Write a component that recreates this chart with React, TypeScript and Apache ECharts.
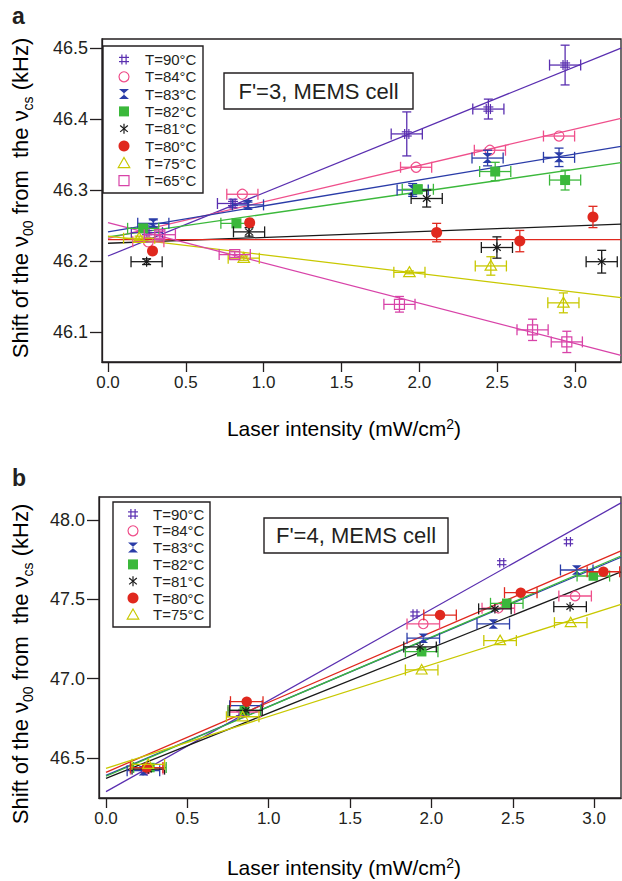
import React, { useEffect, useRef } from "react";
import * as echarts from "echarts";

const FONT = "'Liberation Sans', Arial, Helvetica, sans-serif";
const INK = "#231f20";

const seriesNames = ["T=90°C", "T=84°C", "T=83°C", "T=82°C", "T=81°C", "T=80°C", "T=75°C", "T=65°C"];
const seriesColors = ["#5a2fb0", "#ef4f8b", "#2a3ca8", "#3bb83b", "#1a1a1a", "#e0281e", "#c8c800", "#d843a8"];
const markerKinds = ["hash", "circleOpen", "hourglass", "squareFilled", "asterisk", "circleFilled", "triangleOpen", "squareOpen"];

// Panel a (F'=3): [intensity, shift, intensity error, shift error]
const a90 = [[0.25, 46.240, 0.1, 0.008], [0.803, 46.281, 0.1, 0.006], [1.919, 46.379, 0.1, 0.031], [2.443, 46.414, 0.1, 0.014], [2.936, 46.476, 0.1, 0.028]];
const a84 = [[0.259, 46.227, 0.1, 0], [0.863, 46.294, 0.1, 0], [1.979, 46.332, 0.1, 0], [2.453, 46.356, 0.1, 0], [2.897, 46.376, 0.1, 0]];
const a83 = [[0.291, 46.253, 0.1, 0.005], [0.899, 46.279, 0.1, 0.004], [1.957, 46.300, 0.1, 0.009], [2.438, 46.345, 0.1, 0.011], [2.897, 46.346, 0.1, 0.013]];
const a82 = [[0.226, 46.246, 0.1, 0.004], [0.825, 46.253, 0.1, 0.004], [1.99, 46.301, 0.1, 0.006], [2.487, 46.326, 0.1, 0.013], [2.936, 46.314, 0.1, 0.014]];
const a81 = [[0.248, 46.199, 0.1, 0.004], [0.906, 46.241, 0.1, 0.006], [2.047, 46.288, 0.1, 0.012], [2.498, 46.219, 0.1, 0.015], [3.171, 46.199, 0.1, 0.016]];
const a80 = [[0.286, 46.214, 0, 0], [0.91, 46.254, 0, 0.004], [2.111, 46.240, 0, 0.013], [2.645, 46.228, 0, 0.015], [3.115, 46.262, 0, 0.015]];
const a75 = [[0.2, 46.232, 0.1, 0.003], [0.872, 46.204, 0.1, 0.003], [1.936, 46.184, 0.1, 0.002], [2.459, 46.193, 0.1, 0.013], [2.925, 46.141, 0.1, 0.014]];
const a65 = [[0.333, 46.237, 0.1, 0.005], [0.814, 46.209, 0.1, 0.004], [1.872, 46.139, 0.1, 0.011], [2.727, 46.103, 0.1, 0.015], [2.947, 46.086, 0.1, 0.015]];
const panelAData = [a90, a84, a83, a82, a81, a80, a75, a65];
const panelAFitIntercept = [46.207, 46.232, 46.241, 46.234, 46.225, 46.230, 46.235, 46.254];
const panelAFitSlope = [0.0889, 0.0513, 0.0366, 0.0317, 0.0082, 0.0, -0.0263, -0.0567];

// Panel b (F'=4)
const b90 = [[0.24, 46.42, 0, 0], [0.83, 46.78, 0, 0], [1.899, 47.408, 0, 0], [2.432, 47.731, 0, 0], [2.842, 47.863, 0, 0]];
const b84 = [[0.25, 46.43, 0.1, 0], [0.85, 46.79, 0.1, 0], [1.95, 47.345, 0.1, 0], [2.411, 47.444, 0.1, 0], [2.883, 47.521, 0.1, 0]];
const b83 = [[0.23, 46.42, 0.1, 0], [0.86, 46.83, 0.1, 0], [1.95, 47.255, 0.1, 0], [2.38, 47.345, 0.1, 0], [2.893, 47.685, 0.1, 0]];
const b82 = [[0.27, 46.44, 0.1, 0], [0.85, 46.80, 0.1, 0], [1.94, 47.17, 0.1, 0], [2.463, 47.475, 0.1, 0], [2.995, 47.647, 0.1, 0]];
const b81 = [[0.26, 46.43, 0.1, 0], [0.86, 46.80, 0.1, 0], [1.93, 47.2, 0.1, 0], [2.39, 47.44, 0.1, 0], [2.852, 47.454, 0.1, 0]];
const b80 = [[0.25, 46.44, 0.1, 0], [0.865, 46.855, 0.1, 0], [2.053, 47.401, 0.1, 0], [2.549, 47.542, 0.1, 0], [3.057, 47.674, 0.1, 0]];
const b75 = [[0.26, 46.46, 0.1, 0], [0.84, 46.76, 0.1, 0], [1.94, 47.055, 0.1, 0], [2.422, 47.24, 0.1, 0], [2.856, 47.353, 0.1, 0]];
const panelBData = [b90, b84, b83, b82, b81, b80, b75];
const panelBFitIntercept = [46.288, null, 46.39, 46.385, 46.372, 46.41, 46.435];
const panelBFitSlope = [0.575, null, 0.4345, 0.4386, 0.411, 0.441, 0.3266];

const xTicks = [0, 0.5, 1, 1.5, 2, 2.5, 3];
const yTicksA = [46.1, 46.2, 46.3, 46.4, 46.5];
const yTicksB = [46.5, 47.0, 47.5, 48.0];

const X_A = [-0.0385, 3.295];
const Y_A = [46.0577, 46.5127];
const X_B = [-0.043, 3.165];
const Y_B = [46.248, 48.145];

function ln(x1: number, y1: number, x2: number, y2: number, color: string, lw = 1.2) {
  return { type: "line", shape: { x1, y1, x2, y2 }, style: { stroke: color, lineWidth: lw } };
}

function markerShapes(kind: string, cx: number, cy: number, color: string, s: number): any[] {
  const h = s / 2;
  const lw = 1.2;
  switch (kind) {
    case "hash": {
      const o = h * 0.42;
      return [
        ln(cx - o, cy - h, cx - o, cy + h, color, lw),
        ln(cx + o, cy - h, cx + o, cy + h, color, lw),
        ln(cx - h, cy - o, cx + h, cy - o, color, lw),
        ln(cx - h, cy + o, cx + h, cy + o, color, lw),
      ];
    }
    case "circleOpen":
      return [{ type: "circle", shape: { cx, cy, r: h }, style: { stroke: color, lineWidth: lw, fill: "rgba(255,255,255,0)" } }];
    case "hourglass":
      return [{ type: "polygon", shape: { points: [[cx - h, cy - h], [cx + h, cy - h], [cx - h * 0.15, cy], [cx + h, cy + h], [cx - h, cy + h], [cx + h * 0.15, cy]] }, style: { fill: color } }];
    case "squareFilled":
      return [{ type: "rect", shape: { x: cx - h, y: cy - h, width: s, height: s }, style: { fill: color } }];
    case "asterisk": {
      const a = (40 * Math.PI) / 180;
      const dx = h * Math.cos(a), dy = h * Math.sin(a);
      return [
        ln(cx, cy - h, cx, cy + h, color, lw),
        ln(cx - dx, cy - dy, cx + dx, cy + dy, color, lw),
        ln(cx - dx, cy + dy, cx + dx, cy - dy, color, lw),
      ];
    }
    case "circleFilled":
      return [{ type: "circle", shape: { cx, cy, r: h * 1.1 }, style: { fill: color } }];
    case "triangleOpen":
      return [{ type: "polygon", shape: { points: [[cx, cy - h * 1.15], [cx + h * 1.15, cy + h * 0.85], [cx - h * 1.15, cy + h * 0.85]] }, style: { stroke: color, lineWidth: lw, fill: "rgba(255,255,255,0)" } }];
    case "squareOpen":
      return [{ type: "rect", shape: { x: cx - h, y: cy - h, width: s, height: s }, style: { stroke: color, lineWidth: lw, fill: "rgba(255,255,255,0)" } }];
  }
  return [];
}

function makeRenderItem(kind: string, color: string, size: number) {
  return (_params: any, api: any) => {
    const x = api.value(0), y = api.value(1), xe = api.value(2), ye = api.value(3);
    const c = api.coord([x, y]);
    const kids: any[] = [];
    if (xe > 0) {
      const l = api.coord([x - xe, y]);
      const r = api.coord([x + xe, y]);
      kids.push(ln(l[0], c[1], r[0], c[1], color, 1.3));
      kids.push(ln(l[0], c[1] - 5.5, l[0], c[1] + 5.5, color, 1.3));
      kids.push(ln(r[0], c[1] - 5.5, r[0], c[1] + 5.5, color, 1.3));
    }
    if (ye > 0) {
      const t = api.coord([x, y + ye]);
      const b = api.coord([x, y - ye]);
      kids.push(ln(c[0], t[1], c[0], b[1], color, 1.3));
      kids.push(ln(c[0] - 4.5, t[1], c[0] + 4.5, t[1], color, 1.3));
      kids.push(ln(c[0] - 4.5, b[1], c[0] + 4.5, b[1], color, 1.3));
    }
    kids.push(...markerShapes(kind, c[0], c[1], color, size));
    return { type: "group", children: kids };
  };
}

function axisPair(gi: number, xr: number[], yr: number[], yTicks: number[]) {
  const x = {
    type: "value", gridIndex: gi, min: xr[0], max: xr[1],
    axisLine: { show: true, onZero: false, lineStyle: { color: INK, width: 1.3 } },
    axisTick: { show: true, inside: false, length: 10, customValues: xTicks, lineStyle: { color: INK, width: 1.3 } },
    axisLabel: { customValues: xTicks, formatter: (v: number) => v.toFixed(1), fontSize: 17, color: INK, margin: 12, fontFamily: FONT },
    splitLine: { show: false },
  };
  const y = {
    type: "value", gridIndex: gi, min: yr[0], max: yr[1],
    axisLine: { show: true, onZero: false, lineStyle: { color: INK, width: 1.3 } },
    axisTick: { show: true, inside: false, length: 12, customValues: yTicks, lineStyle: { color: INK, width: 1.3 } },
    axisLabel: { customValues: yTicks, formatter: (v: number) => v.toFixed(1), fontSize: 18, color: INK, margin: 14, fontFamily: FONT },
    splitLine: { show: false },
  };
  return { x, y };
}

function buildSeries(gi: number, data: number[][][], icpt: (number | null)[], slope: (number | null)[], xMax: number, size: number) {
  const out: any[] = [];
  data.forEach((pts, i) => {
    const color = seriesColors[i];
    const a = icpt[i], b = slope[i];
    if (a !== null && b !== null) {
      out.push({
        type: "line", name: seriesNames[i] + " fit", xAxisIndex: gi, yAxisIndex: gi,
        data: [[0, a], [xMax, a + b * xMax]],
        showSymbol: false, symbol: "none", lineStyle: { color, width: 1.3 }, z: 2, silent: true,
      });
    }
    out.push({
      type: "custom", name: seriesNames[i], xAxisIndex: gi, yAxisIndex: gi,
      data: pts, encode: { x: 0, y: 1 }, renderItem: makeRenderItem(markerKinds[i], color, size), z: 3, silent: true,
    });
  });
  return out;
}

function legendGraphic(box: number[], rowY0: number, rowGap: number, symX: number, textX: number, count: number) {
  const els: any[] = [
    { type: "rect", shape: { x: box[0], y: box[1], width: box[2], height: box[3] }, style: { fill: "#fff", stroke: INK, lineWidth: 1.4 }, z: 10 },
  ];
  for (let i = 0; i < count; i++) {
    const cy = rowY0 + i * rowGap;
    markerShapes(markerKinds[i], symX, cy, seriesColors[i], 10).forEach((m) => els.push({ ...m, z: 11 }));
    els.push({ type: "text", x: textX, y: cy, style: { text: seriesNames[i], fontSize: 15, fontFamily: FONT, fill: INK, align: "left", verticalAlign: "middle" }, z: 11 });
  }
  return els;
}

const yTitleRich = {
  m: { fontSize: 22, lineHeight: 30, fontFamily: FONT, color: INK },
  s: { fontSize: 14, lineHeight: 14, fontFamily: FONT, verticalAlign: "bottom", color: INK },
};
const yTitleText = "{m|Shift of the ν}{s|00}{m| from  the ν}{s|cs}{m| (kHz)}";
const xTitleRich = {
  m: { fontSize: 21, lineHeight: 22, fontFamily: FONT, color: INK },
  p: { fontSize: 14, lineHeight: 10, fontFamily: FONT, verticalAlign: "top", color: INK },
};
const xTitleText = "{m|Laser intensity (mW/cm}{p|2}{m|)}";

export default function App() {
  const ref = useRef<HTMLDivElement>(null);
  useEffect(() => {
    if (!ref.current) return;
    const chart = echarts.init(ref.current, undefined, { renderer: "svg" });
    const A = axisPair(0, X_A, Y_A, yTicksA);
    const B = axisPair(1, X_B, Y_B, yTicksB);
    const graphic: any[] = [
      { type: "text", x: 12, y: 16, style: { text: "a", fontSize: 23, fontWeight: "bold", fontFamily: FONT, fill: INK, verticalAlign: "middle" } },
      { type: "text", x: 12, y: 478, style: { text: "b", fontSize: 23, fontWeight: "bold", fontFamily: FONT, fill: INK, verticalAlign: "middle" } },
      { type: "rect", shape: { x: 224, y: 73, width: 189, height: 36 }, style: { fill: "#fff", stroke: INK, lineWidth: 1.4 }, z: 10 },
      { type: "text", x: 318.5, y: 91, style: { text: "F'=3, MEMS cell", fontSize: 22, fontFamily: FONT, fill: INK, align: "center", verticalAlign: "middle" }, z: 11 },
      { type: "rect", shape: { x: 264, y: 518, width: 184, height: 35 }, style: { fill: "#fff", stroke: INK, lineWidth: 1.4 }, z: 10 },
      { type: "text", x: 356, y: 535.5, style: { text: "F'=4, MEMS cell", fontSize: 22, fontFamily: FONT, fill: INK, align: "center", verticalAlign: "middle" }, z: 11 },
      ...legendGraphic([103, 46, 100, 147], 59.5, 17.3, 124, 145, 8),
      ...legendGraphic([113, 502, 97, 125], 514, 16.8, 133, 153, 7),
      { type: "text", x: 20, y: 198, rotation: Math.PI / 2, style: { text: yTitleText, rich: yTitleRich, align: "center", verticalAlign: "middle", fontFamily: FONT } },
      { type: "text", x: 20, y: 664, rotation: Math.PI / 2, style: { text: yTitleText, rich: yTitleRich, align: "center", verticalAlign: "middle", fontFamily: FONT } },
      { type: "text", x: 344, y: 428, style: { text: xTitleText, rich: xTitleRich, align: "center", verticalAlign: "middle", fontFamily: FONT } },
      { type: "text", x: 344, y: 867, style: { text: xTitleText, rich: xTitleRich, align: "center", verticalAlign: "middle", fontFamily: FONT } },
    ];
    chart.setOption({
      animation: false,
      backgroundColor: "#ffffff",
      textStyle: { fontFamily: FONT },
      grid: [
        { left: 102, top: 39, width: 519, height: 323, show: true, borderColor: INK, borderWidth: 1.3, backgroundColor: "transparent" },
        { left: 99, top: 497, width: 522, height: 301, show: true, borderColor: INK, borderWidth: 1.3, backgroundColor: "transparent" },
      ],
      xAxis: [A.x, B.x],
      yAxis: [A.y, B.y],
      series: [
        ...buildSeries(0, panelAData, panelAFitIntercept, panelAFitSlope, X_A[1], 10),
        ...buildSeries(1, panelBData, panelBFitIntercept, panelBFitSlope, X_B[1], 9.5),
      ],
      graphic,
    });
    return () => chart.dispose();
  }, []);
  return <div ref={ref} style={{ position: "fixed", left: 0, top: 0, width: 622, height: 881 }} />;
}
